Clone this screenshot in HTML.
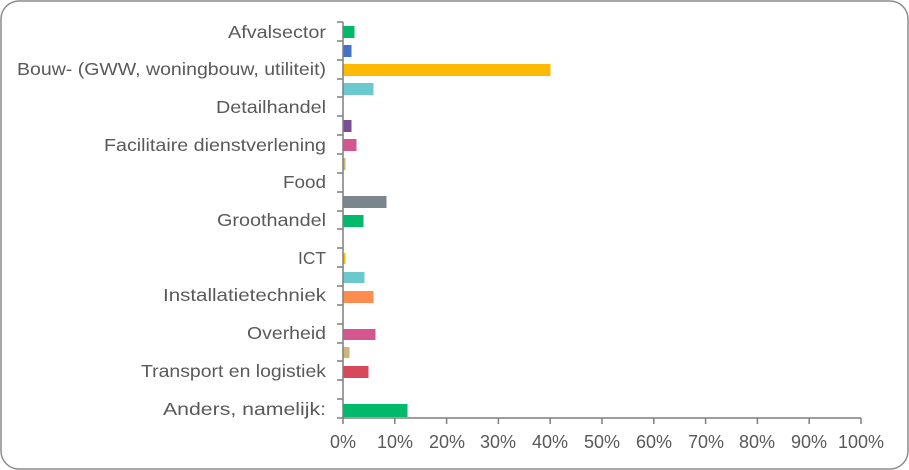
<!DOCTYPE html>
<html><head><style>
body{margin:0;background:#fff;}
svg{display:block;font-family:"Liberation Sans",sans-serif;}
</style></head><body>
<svg width="909" height="470" viewBox="0 0 909 470">
<rect x="1" y="1" width="907" height="468" rx="18" fill="#fff" stroke="#8c8c8c" stroke-width="1.5"/>
<g fill="#595959" font-size="17.5" text-anchor="end" lengthAdjust="spacingAndGlyphs">
<text x="326" y="38" textLength="98" lengthAdjust="spacingAndGlyphs">Afvalsector</text>
<text x="326" y="75" textLength="309" lengthAdjust="spacingAndGlyphs">Bouw- (GWW, woningbouw, utiliteit)</text>
<text x="326" y="113" textLength="110" lengthAdjust="spacingAndGlyphs">Detailhandel</text>
<text x="326" y="151" textLength="222" lengthAdjust="spacingAndGlyphs">Facilitaire dienstverlening</text>
<text x="326" y="188" textLength="43" lengthAdjust="spacingAndGlyphs">Food</text>
<text x="326" y="226" textLength="109" lengthAdjust="spacingAndGlyphs">Groothandel</text>
<text x="326" y="264" textLength="28" lengthAdjust="spacingAndGlyphs">ICT</text>
<text x="326" y="301" textLength="163" lengthAdjust="spacingAndGlyphs">Installatietechniek</text>
<text x="326" y="339" textLength="79" lengthAdjust="spacingAndGlyphs">Overheid</text>
<text x="326" y="377" textLength="185" lengthAdjust="spacingAndGlyphs">Transport en logistiek</text>
<text x="326" y="415" textLength="163" lengthAdjust="spacingAndGlyphs">Anders, namelijk:</text>
</g>
<g>
<rect x="343.5" y="26" width="11" height="12" fill="#00b96b"/>
<rect x="343.5" y="45" width="8" height="12" fill="#4472c4"/>
<rect x="343.5" y="64" width="207" height="12" fill="#fcba03"/>
<rect x="343.5" y="83" width="30" height="12" fill="#6bc8cd"/>
<rect x="343.5" y="120" width="8" height="12" fill="#7a4f96"/>
<rect x="343.5" y="139" width="13" height="12" fill="#d5568f"/>
<rect x="343.5" y="158" width="2" height="12" fill="#c9b77a"/>
<rect x="343.5" y="196" width="43" height="12" fill="#7b858c"/>
<rect x="343.5" y="215" width="20" height="12" fill="#00b96b"/>
<rect x="343.5" y="253" width="2" height="11" fill="#fcba03"/>
<rect x="343.5" y="272" width="21" height="11" fill="#6bc8cd"/>
<rect x="343.5" y="291" width="30" height="12" fill="#ff8c4f"/>
<rect x="343.5" y="329" width="32" height="11" fill="#d5568f"/>
<rect x="343.5" y="347" width="6" height="11" fill="#c9b77a"/>
<rect x="343.5" y="366" width="25" height="12" fill="#d8485c"/>
<rect x="343.5" y="404" width="64" height="13" fill="#00b96b"/>
</g>
<g stroke="#7f7f7f" stroke-width="1.5">
<line x1="343" y1="22" x2="343" y2="418"/>
<line x1="343" y1="418" x2="861" y2="418"/>
<path d="M337 22H343M337 41H343M337 60H343M337 79H343M337 97H343M337 116H343M337 135H343M337 154H343M337 173H343M337 192H343M337 211H343M337 229H343M337 248H343M337 267H343M337 286H343M337 305H343M337 324H343M337 343H343M337 361H343M337 380H343M337 399H343M337 418H343"/>
<path d="M343 418V424M394.8 418V424M446.6 418V424M498.4 418V424M550.2 418V424M602 418V424M653.8 418V424M705.6 418V424M757.4 418V424M809.2 418V424M861 418V424"/>
</g>
<g fill="#595959" font-size="18" text-anchor="middle">
<text x="343" y="448">0%</text><text x="395" y="448">10%</text><text x="447" y="448">20%</text><text x="498" y="448">30%</text><text x="550" y="448">40%</text><text x="602" y="448">50%</text><text x="654" y="448">60%</text><text x="706" y="448">70%</text><text x="757" y="448">80%</text><text x="809" y="448">90%</text><text x="861" y="448">100%</text>
</g>
</svg>
</body></html>
